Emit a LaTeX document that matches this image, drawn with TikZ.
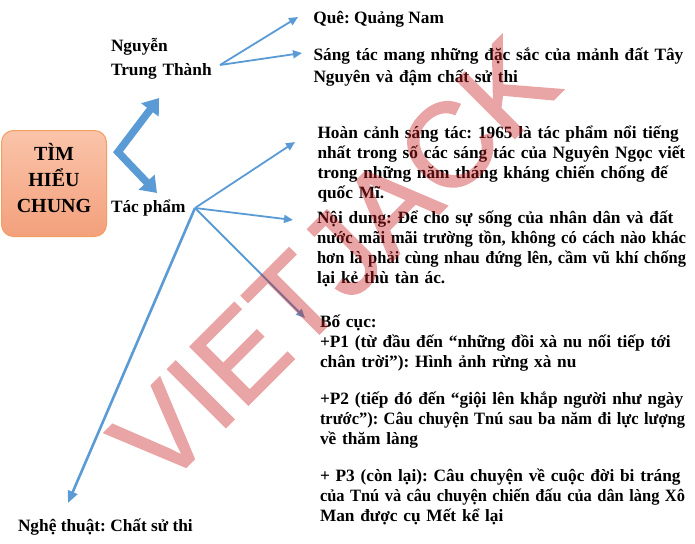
\documentclass[tikz,border=0pt]{standalone}
\usepackage{fontspec}
\usepackage{graphicx}
\setmainfont{Liberation Serif}
\newfontfamily\wmfont[FakeBold=1.5]{Liberation Sans}
\usetikzlibrary{arrows.meta}
\definecolor{linkblue}{RGB}{91,155,213}
\definecolor{boxtop}{RGB}{250,196,170}
\definecolor{boxbot}{RGB}{243,160,124}
\definecolor{boxline}{RGB}{245,158,98}
\definecolor{wmred}{RGB}{200,30,30}
\tikzset{
  thin arrow/.style={draw=linkblue, line width=1.8pt, -{Triangle[length=9pt,width=8pt]}},
  art arrow/.style={draw=linkblue, line width=2.6pt, -{Triangle[length=12pt,width=10pt]}},
  thick arrow/.style={draw=linkblue, line width=7.5pt, miter limit=10,
    {Triangle[length=15pt,width=21pt]}-{Triangle[length=15pt,width=21pt]}},
  txt/.style={inner sep=0pt, outer sep=0pt, anchor=base west, align=left,
    font=\bfseries\frenchspacing\fontsize{17.3pt}{20pt}\selectfont},
  topic/.style={draw=boxline, line width=1pt, rounded corners=12pt,
    top color=boxtop, bottom color=boxbot, minimum width=105pt, minimum height=106pt, inner sep=0pt},
  topictxt/.style={inner sep=0pt, anchor=base, font=\bfseries\fontsize{20pt}{26pt}\selectfont},
  mark wm/.style={inner sep=0pt, anchor=base, rotate=45, text=wmred,
    font=\wmfont\fontsize{119pt}{119pt}\selectfont}
}
\newsavebox\jlbox
% justified line: stretch spaces to the width, or squeeze slightly if too wide
\newcommand\jl[2]{\sbox\jlbox{#2}\ifdim\wd\jlbox>#1\relax\resizebox{#1}{\ht\jlbox}{\usebox\jlbox}\else\makebox[#1][s]{#2}\fi}
\frenchspacing
\begin{document}
\begin{tikzpicture}[x=1pt,y=-1pt]
\useasboundingbox (0,0) rectangle (695,543);
\fill[white] (0,0) rectangle (695,543);

% central topic
\node[topic] (tim) at (54,183.5) {};
\node[topictxt] (t1) at (54,160) {TÌM};
\node[topictxt] (t2) at (54,186) {HIỂU};
\node[topictxt] (t3) at (54,212.3) {CHUNG};

% second level
\node[txt, text width=120pt, font=\bfseries\fontsize{17.3pt}{23.7pt}\selectfont] (ntt) at (111,52) {Nguyễn\\Trung Thành};
\node[txt] (tp) at (111,212.7) {Tác phẩm};
\node[txt] (nt) at (18,531.5) {Nghệ thuật: Chất sử thi};

% author details
\node[txt] (que) at (313.3,24) {Quê: Quảng Nam};
\node[txt, text width=380pt, font=\bfseries\frenchspacing\fontsize{17.3pt}{21.5pt}\selectfont] (sang) at (313.5,60.5)
  {Sáng tác mang những đặc sắc của mảnh đất Tây\\Nguyên và đậm chất sử thi};

% work details
\node[txt, text width=372pt] (hc) at (317.5,138.3) {%
\jl{369pt}{Hoàn cảnh sáng tác: 1965 là tác phẩm nổi tiếng}\\
\jl{369pt}{nhất trong số các sáng tác của Nguyên Ngọc viết}\\
\jl{369pt}{trong những năm tháng kháng chiến chống đế}\\
quốc Mĩ.};
\node[txt, text width=372pt] (nd) at (317,223.3) {%
\jl{369pt}{Nội dung: Để cho sự sống của nhân dân và đất}\\
\jl{369pt}{nước mãi mãi trường tồn, không có cách nào khác}\\
\jl{369pt}{hơn là phải cùng nhau đứng lên, cầm vũ khí chống}\\
lại kẻ thù tàn ác.};
\node[txt, text width=372pt] (bc) at (320,327.3) {%
Bố cục:\\
\jl{365pt}{+P1 (từ đầu đến “những đồi xà nu nối tiếp tới}\\
chân trời”): Hình ảnh rừng xà nu\\[17pt]
\jl{365pt}{+P2 (tiếp đó đến “giội lên khắp người như ngày}\\
\jl{365pt}{trước”): Câu chuyện Tnú sau ba năm đi lực lượng}\\
về thăm làng\\[17.5pt]
\jl{365pt}{+ P3 (còn lại): Câu chuyện về cuộc đời bi tráng}\\
\jl{365pt}{của Tnú và câu chuyện chiến đấu của dân làng Xô}\\
Man được cụ Mết kể lại};

% connector points
\coordinate (elbow) at (118,152);
\coordinate (tipN) at (159,98);
\coordinate (tipT) at (157,193);
\coordinate (nttR) at (220,65);
\coordinate (queL) at (298,17);
\coordinate (sangL) at (302,53);
\coordinate (tpR) at (195,208);
\coordinate (hcL) at (295,142);
\coordinate (ndL) at (293,220);
\coordinate (bcL) at (305,318);
\coordinate (ntT) at (68,503);

\draw[thick arrow] (tipN) -- (elbow) -- (tipT);
\draw[thin arrow] (nttR) -- (queL);
\draw[thin arrow] (nttR) -- (sangL);
\draw[thin arrow] (tpR) -- (hcL);
\draw[thin arrow] (tpR) -- (ndL);
\draw[thin arrow] (tpR) -- (bcL);
\draw[art arrow] (tpR) -- (ntT);

% watermark, flattened in one transparency group
\begin{scope}[transparency group, opacity=0.4]
  \node[mark wm] (wm) at (363,290) {VIETJACK};
\end{scope}
\end{tikzpicture}
\end{document}
